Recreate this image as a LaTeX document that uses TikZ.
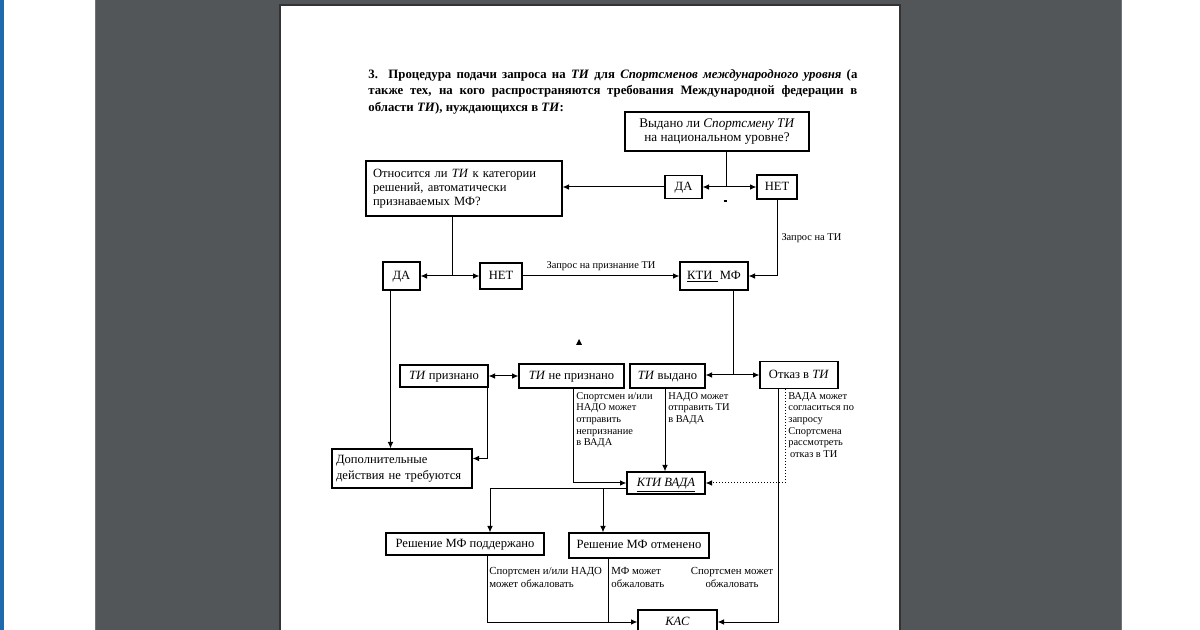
\documentclass[tikz,border=0pt]{standalone}
\usepackage{fontspec}
\setmainfont{Liberation Serif}
\usetikzlibrary{arrows.meta,positioning,calc}
\definecolor{viewerGrey}{HTML}{525659}
\definecolor{deskBlue}{HTML}{1E6AAE}
\definecolor{pageEdge}{HTML}{333333}
\newcommand{\boxfont}{\fontsize{6.3}{7}\selectfont}
\newcommand{\notefont}{\fontsize{5.2}{5.8}\selectfont}
\newcommand{\lownotefont}{\fontsize{5.4}{6.5}\selectfont}
\newcommand{\headfont}{\fontsize{6.4}{8.25}\selectfont\bfseries}

\begin{document}
\begin{tikzpicture}[x=0.5pt,y=-0.5pt,
  every node/.style={inner sep=0pt},
  box/.style={draw,line width=0.6pt,font=\boxfont,align=center},
  onebox/.style={box,text height=4.6pt,text depth=1.5pt},
  note/.style={font=\notefont,align=left,anchor=north west},
  lownote/.style={font=\lownotefont,align=left,anchor=north west},
  arrow/.style={-{Latex[length=3.2pt,width=2.8pt]},line width=0.5pt},
  twoway/.style={{Latex[length=3.2pt,width=2.8pt]}-{Latex[length=3.2pt,width=2.8pt]},line width=0.5pt},
  link/.style={line width=0.5pt}
]
% окно просмотра и страница
\useasboundingbox (0,0) rectangle (1200,630);
\clip (0,0) rectangle (1200,630);
\fill[white] (0,0) rectangle (1200,630);
\fill[deskBlue] (0,0) rectangle (4,630);
\fill[viewerGrey,draw=black!55] (95,-2) rectangle (1121,632);
\fill[white,draw=pageEdge,line width=0.6pt] (280,5) rectangle (900,640);

% заголовок
\node[font=\headfont,text width=244.5pt,align=justify,anchor=north west] (head) at (368,69)
  {3. Процедура подачи запроса на \textit{ТИ} для \textit{Спортсменов международного уровня} (а\linebreak
   также тех, на кого распространяются требования Международной федерации в\linebreak
   области \textit{ТИ}), нуждающихся в \textit{ТИ}:};

% верхний уровень
\node[box,minimum width=92pt,minimum height=19.5pt,font=\fontsize{6.6}{7}\selectfont] (ask) at (717,131.5) {Выдано ли \textit{Спортсмену ТИ}\\на национальном уровне?};
\node[onebox,minimum width=18.5pt,minimum height=11.5pt] (yesA) at (683.5,187) {ДА};
\node[onebox,minimum width=20pt,minimum height=12pt] (noA) at (777,187) {НЕТ};
\node[box,align=left,text width=91pt,inner xsep=3.5pt,minimum height=27.5pt] (cat) at (464,188.5) {Относится ли \textit{ТИ} к категории\\решений, автоматически\\признаваемых МФ?};
\node[onebox,minimum width=18.5pt,minimum height=14pt] (yesB) at (401.5,276) {ДА};
\node[onebox,minimum width=21pt,minimum height=13pt] (noB) at (501,276) {НЕТ};
\node[onebox,minimum width=34pt,minimum height=14pt] (ktiMF) at (714,276) {\underline{КТИ\ \,}\,МФ};

% решения МФ
\node[onebox,minimum width=44pt,minimum height=11pt] (recog) at (444,376) {\textit{ТИ} признано};
\node[onebox,minimum width=52.5pt,minimum height=12pt] (notRecog) at (571.5,376) {\textit{ТИ} не признано};
\node[onebox,minimum width=37.5pt,minimum height=12pt] (issued) at (667.5,376) {\textit{ТИ} выдано};
\node[onebox,minimum width=39pt,minimum height=13.5pt] (refusal) at (799,375) {Отказ в \textit{ТИ}};
\node[box,align=left,text width=66pt,inner xsep=2pt,minimum height=19.5pt,font=\fontsize{6.3}{7.8}\selectfont] (noAction) at (402,468.5) {Дополнительные\\действия не требуются};

% ВАДА и КАС
\node[onebox,minimum width=39pt,minimum height=11pt] (ktiWADA) at (666,483) {\underline{\textit{КТИ ВАДА}}};
\node[onebox,minimum width=79pt,minimum height=11pt] (upheld) at (465,544) {Решение МФ поддержано};
\node[onebox,minimum width=70pt,minimum height=12.5pt] (overturned) at (639,545.5) {Решение МФ отменено};
\node[onebox,minimum width=39.5pt,minimum height=12pt] (cas) at (677.5,622) {\textit{КАС}};

% связи
\coordinate (forkA) at (726,187);
\draw[link] (ask.south -| forkA) -- (forkA);
\draw[twoway] (yesA) -- (noA);
\draw[arrow] (yesA) -- (cat.east |- yesA);
\draw[line width=0.6pt] (723.5,201) -- (726.5,201);

\coordinate (forkB) at (452,276);
\draw[link] (cat.south -| forkB) -- (forkB);
\draw[twoway] (yesB) -- (noB);
\draw[arrow] (noB) -- node[above=2.5pt,font=\notefont] {Запрос на признание ТИ} (ktiMF);
\draw[arrow] (noA.south) |- (ktiMF.east) node[pos=0.25,right=2pt,font=\notefont] {Запрос на ТИ};
\draw[arrow] ([xshift=-5.5pt]yesB.south) -- ([xshift=-5.5pt]yesB.south |- noAction.north);
\fill (576,345) -- (582,345) -- (579,339) -- cycle;

\coordinate (forkC) at (733,375);
\draw[link] (ktiMF.south -| forkC) -- (forkC);
\draw[twoway] (issued.east |- forkC) -- (refusal.west |- forkC);
\draw[twoway] (recog) -- (notRecog);
\draw[arrow] ([xshift=-0.75pt]recog.south east) |- ([yshift=5pt]noAction.east);
\draw[arrow] ([xshift=0.75pt]notRecog.south) |- (ktiWADA.west);
\node[note] (noteNotRecog) at (576,392) {Спортсмен и/или\\НАДО может\\отправить\\непризнание\\в ВАДА};
\draw[arrow] ([xshift=-1.25pt]issued.south) -- ([xshift=-0.5pt]ktiWADA.north);
\node[note] (noteIssued) at (668,392) {НАДО может\\отправить ТИ\\в ВАДА};
\draw[arrow,dash pattern=on 0.6pt off 0.9pt] ([xshift=-7pt]refusal.south) |- (ktiWADA.east);
\draw[arrow] ([xshift=-10.5pt]refusal.south) |- (cas.east);
\node[note] (noteRefusal) at (788,392) {ВАДА может\\согласиться по\\запросу\\Спортсмена\\рассмотреть\\\,отказ в ТИ};

\coordinate (forkD) at (603,489);
\draw[arrow] ([yshift=-3pt]ktiWADA.west) -| ([xshift=12.5pt]upheld.north);
\draw[arrow] (forkD) -- (forkD |- overturned.north);
\draw[arrow] ([xshift=11pt]upheld.south) |- (cas.west);
\draw[link] ([xshift=-15.5pt]overturned.south) -- ([xshift=-15.5pt]overturned.south |- cas.west);
\node[lownote] (noteUpheld) at (489,567) {Спортсмен и/или НАДО\\может обжаловать};
\node[lownote] (noteOverturned) at (611,567) {МФ может\\обжаловать};
\node[lownote,align=center,anchor=north] (noteCAS) at (732,567) {Спортсмен может\\обжаловать};
\end{tikzpicture}
\end{document}
